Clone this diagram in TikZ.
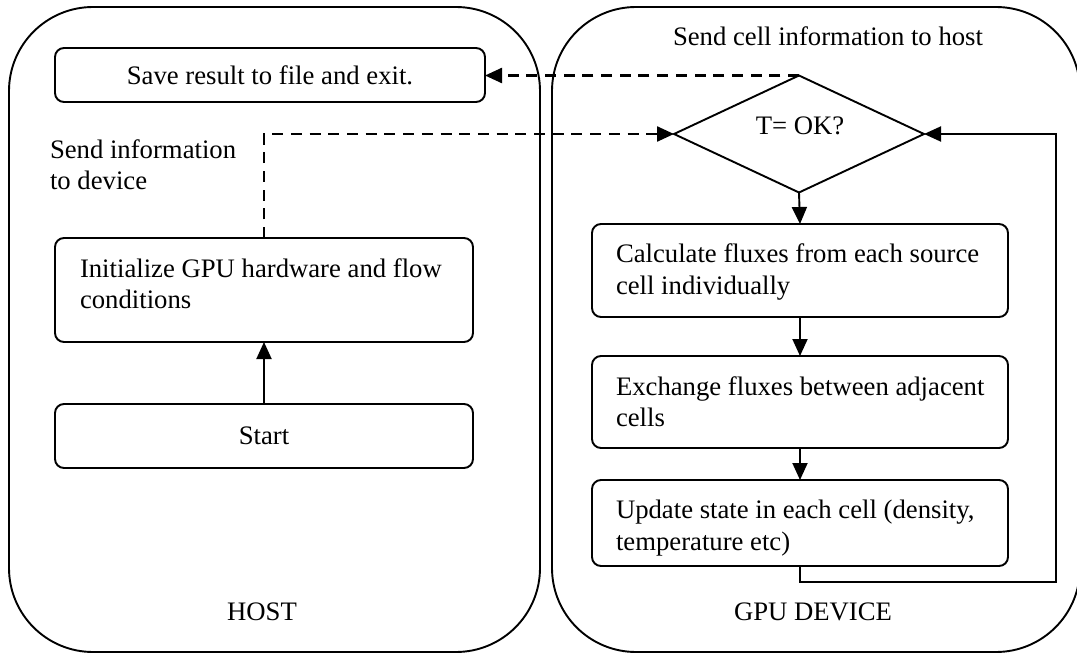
\documentclass[tikz,border=0pt]{standalone}
\usepackage{fontspec}
\setmainfont{Liberation Serif}
\usetikzlibrary{shapes.geometric,arrows.meta}
\begin{document}
\begin{tikzpicture}[x=1pt,y=-1pt,
  every node/.style={font=\fontsize{26.7}{31.5}\selectfont, inner sep=0pt, outer sep=0pt},
  lw/.style={line width=1.9pt},
  container/.style={draw, lw, rounded corners=84pt, anchor=north west},
  procbox/.style={draw, lw, rounded corners=9pt, anchor=north west},
  decision/.style={draw, lw, diamond, minimum width=250pt, minimum height=117pt},
  boxtext/.style={anchor=west, align=left},
  flow/.style={lw, -{Triangle[length=17pt,width=15pt]}},
  sendflow/.style={flow, line width=2.4pt, dash pattern=on 11pt off 7.7pt}]
\path[use as bounding box, clip] (0,0) rectangle (1077,653);
% containers
\node[container, minimum width=531pt, minimum height=645pt] (host) at (9,7) {};
\node[container, minimum width=528pt, minimum height=645pt] (device) at (552,7) {};
% host side
\node[procbox, minimum width=430pt, minimum height=54pt] (save) at (55,48) {Save result to file and exit.};
\node[procbox, minimum width=418pt, minimum height=104pt] (init) at (55,238) {};
\node[boxtext] (inittext) at (80,283.6) {Initialize GPU hardware and flow\\conditions};
\node[procbox, minimum width=418pt, minimum height=64pt] (start) at (55,404) {Start};
\node[anchor=west, align=left] (sendinfo) at (50,164.6) {Send information\\to device};
\node (hostlabel) at (262,611.4) {HOST};
% device side
\node (sendcell) at (828,36) {Send cell information to host};
\node[decision] (dec) at (799,134) {};
\node (dectext) at (800,126.2) {T= OK?};
\node[procbox, minimum width=416pt, minimum height=93pt] (calc) at (592,224) {};
\node[boxtext] (calctext) at (616,272) {Calculate fluxes from each source\\cell individually};
\node[procbox, minimum width=416pt, minimum height=92pt] (exch) at (592,356) {};
\node[boxtext] (exchtext) at (616,401.6) {Exchange fluxes between adjacent\\cells};
\node[procbox, minimum width=416pt, minimum height=86pt] (upd) at (592,480) {};
\node[boxtext] (updtext) at (616,528) {Update state in each cell (density,\\temperature etc)};
\node (devlabel) at (813,611.4) {GPU DEVICE};
% connectors
\draw[flow] (start) -- (init);
\draw[sendflow] (init.north) |- (dec.west);
\draw[sendflow] (dec.north) -- (save.east |- dec.north);
\draw[flow] (dec.south) -- (calc.north);
\draw[flow] (calc) -- (exch);
\draw[flow] (exch) -- (upd);
\coordinate (loopcorner) at (1056,582);
\draw[flow] (upd.south) |- (loopcorner) |- (dec.east);
\end{tikzpicture}
\end{document}
